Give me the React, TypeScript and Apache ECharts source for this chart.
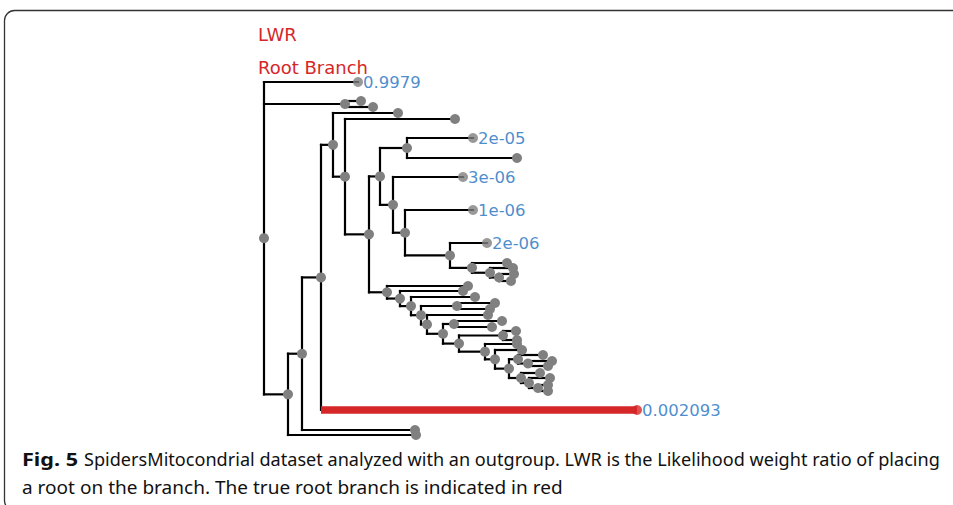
import React, { useEffect, useRef } from 'react';
import * as echarts from 'echarts';

// ---- Tree data (index order: every child comes after its parent) ----
const nodeNames = [
  'root', 'A', 'C', 'c1', 'c2', 'H', 'G', 'hLeaf', 'F', 'gLeaf',
  'D', 'rootBranchLeaf', 'dLeaf', 'E', 'eLeaf', 'I', 'J', 'K', 'L', 'l1',
  'l2', 'M', 'mLeaf', 'N', 'nLeaf', 'O', 'oLeaf', 'P', 'pLeaf', 'Q',
  'qLeaf', 'R', 'r1', 'r2', 'kLeaf', 'S', 'sLeaf', 'T', 'tLeaf', 'U',
  'V', 'v1', 'v2', 'W', 'wLeaf', 'X', 'Y', 'y1', 'y2', 'Z',
  'AA', 'aa1', 'aa2', 'BB', 'bbLeaf', 'CC', 'ccLeaf', 'DD', 'EE', 'eeLeaf',
  'GG', 'gg1', 'gg2', 'FF', 'ffLeaf', 'JJ', 'jjLeaf', 'KK', 'kk1', 'kk2',
];
const nodeParents = [
  -1, 0, 0, 2, 2, 0, 5, 5, 6, 6,
  8, 8, 10, 10, 13, 13, 15, 15, 16, 18,
  18, 16, 21, 21, 23, 23, 25, 25, 27, 27,
  29, 29, 31, 31, 17, 17, 35, 35, 37, 37,
  39, 40, 40, 39, 43, 43, 45, 46, 46, 45,
  49, 50, 50, 49, 53, 53, 55, 55, 57, 58,
  58, 60, 60, 57, 63, 63, 65, 65, 67, 67,
];
// horizontal distance from the root
const nodeDepths = [
  0, 94, 81, 97, 109, 24, 38, 152, 57, 151,
  69, 373, 134, 81, 191, 105, 116, 123, 143, 209,
  253, 129, 199, 141, 209, 186, 223, 208, 243, 226,
  249, 235, 250, 247, 204, 136, 199, 147, 211, 157,
  193, 231, 226, 163, 224, 179, 190, 238, 228, 195,
  239, 252, 253, 221, 253, 231, 258, 245, 254, 279,
  264, 288, 284, 257, 276, 265, 286, 274, 284, 284,
];
// vertical position of the leaves (internal nodes: null, centred on their children)
const leafRows: (number | null)[] = [
  null, 82, null, 101, 107, null, null, 435, null, 430,
  null, 410, 113, null, 119, null, null, null, null, 138,
  158, null, 177, null, 210, null, 243, null, 263, null,
  268, null, 274, 281, 286, null, 291, null, 297, null,
  null, 303, 309, null, 315, null, null, 321, 327, null,
  null, 331, 340, null, 344, null, 350, null, null, 355,
  null, 361, 366, null, 373, null, 378, null, 385, 391,
];
// LWR labels shown on leaves
const labelNodes = [1, 19, 22, 24, 26, 11];
const labelTexts = ['0.9979', '2e-05', '3e-06', '1e-06', '2e-06', '0.002093'];
const rootBranchNode = 11;

const legendLines = ['LWR', 'Root Branch'];
const captionBold = 'Fig. 5';
const captionLine1 =
  'SpidersMitocondrial dataset analyzed with an outgroup. LWR is the Likelihood weight ratio of placing';
const captionLine2 = 'a root on the branch. The true root branch is indicated in red';

const BLUE = '#1b6fbf';
const RED = '#d62728';
const GREY = '#808080';

function measure(text: string, font: string): number {
  const c = document.createElement('canvas');
  const ctx = c.getContext('2d');
  if (!ctx) return 1;
  ctx.font = font;
  return ctx.measureText(text).width;
}

export default function App() {
  const ref = useRef<HTMLDivElement>(null);
  useEffect(() => {
    document.body.style.margin = '0';
    if (!ref.current) return;
    const chart = echarts.init(ref.current, undefined, { renderer: 'svg' });

    const n = nodeNames.length;
    const rows: number[] = new Array(n).fill(0);
    const childMin: number[] = new Array(n).fill(Infinity);
    const childMax: number[] = new Array(n).fill(-Infinity);
    for (let i = n - 1; i >= 0; i--) {
      const lr = leafRows[i];
      rows[i] = lr !== null ? lr : (childMin[i] + childMax[i]) / 2;
      const p = nodeParents[i];
      if (p >= 0) {
        childMin[p] = Math.min(childMin[p], rows[i]);
        childMax[p] = Math.max(childMax[p], rows[i]);
      }
    }
    const blackSegs: number[][] = [];
    const redSegs: number[][] = [];
    for (let i = 0; i < n; i++) {
      const p = nodeParents[i];
      if (p >= 0) {
        const seg = [nodeDepths[p], rows[i], nodeDepths[i], rows[i]];
        if (i === rootBranchNode) redSegs.push(seg);
        else blackSegs.push(seg);
      }
      if (leafRows[i] === null) {
        blackSegs.push([nodeDepths[i], childMin[i], nodeDepths[i], childMax[i]]);
      }
    }
    const dots = nodeNames
      .map((_, i) => i)
      .filter((i) => i !== rootBranchNode && labelNodes.indexOf(i) < 0)
      .map((i) => [nodeDepths[i], rows[i]]);
    const labelled = labelNodes.map((i, k) => ({
      value: [nodeDepths[i], rows[i]],
      name: labelTexts[k],
      itemStyle: { color: i === rootBranchNode ? RED : GREY },
    }));

    const segRender = (color: string, width: number, cap: string) => (params: any, api: any) => {
      const a = api.coord([api.value(0), api.value(1)]);
      const b = api.coord([api.value(2), api.value(3)]);
      return {
        type: 'line',
        shape: { x1: a[0], y1: a[1], x2: b[0], y2: b[1] },
        style: { stroke: color, lineWidth: width, lineCap: cap },
      };
    };

    const capFont = '18px "Noto Sans"';
    const capBoldFont = 'bold 18px "Noto Sans"';
    const sBold = 56 / measure(captionBold, capBoldFont);
    const s1 = 856 / measure(captionLine1, capFont);
    const s2 = 541 / measure(captionLine2, capFont);

    chart.setOption({
      animation: false,
      grid: { left: 264, top: 0, width: 689, height: 505 },
      xAxis: { type: 'value', min: 0, max: 689, show: false },
      yAxis: { type: 'value', min: 0, max: 505, inverse: true, show: false },
      series: [
        {
          type: 'custom',
          renderItem: segRender('#000000', 2.2, 'square'),
          data: blackSegs,
          silent: true,
          z: 2,
        },
        {
          type: 'custom',
          renderItem: segRender(RED, 7.5, 'butt'),
          data: redSegs,
          silent: true,
          z: 3,
        },
        {
          type: 'scatter',
          data: dots,
          symbolSize: 10,
          itemStyle: { color: GREY, opacity: 1 },
          z: 4,
        },
        {
          type: 'scatter',
          data: labelled,
          symbolSize: 10,
          z: 5,
          label: {
            show: true,
            position: 'right',
            distance: 0,
            formatter: '{b}',
            color: BLUE,
            fontSize: 16.5,
            fontFamily: 'DejaVu Sans',
          },
        },
      ],
      graphic: [
        {
          type: 'rect',
          shape: { x: 4.5, y: 10.5, width: 1000, height: 500, r: 10 },
          style: { fill: 'none', stroke: '#333333', lineWidth: 1.3 },
          silent: true,
        },
        ...legendLines.map((t, k) => ({
          type: 'text',
          x: 258,
          y: 34 + k * 33,
          style: {
            text: t,
            fill: RED,
            font: '18px "DejaVu Sans"',
            align: 'left',
            verticalAlign: 'middle',
          },
        })),
        {
          type: 'text',
          x: 22,
          y: 459,
          scaleX: sBold,
          style: { text: captionBold, fill: '#111111', font: capBoldFont, align: 'left', verticalAlign: 'middle' },
        },
        {
          type: 'text',
          x: 84,
          y: 459,
          scaleX: s1,
          style: { text: captionLine1, fill: '#111111', font: capFont, align: 'left', verticalAlign: 'middle' },
        },
        {
          type: 'text',
          x: 22,
          y: 487,
          scaleX: s2,
          style: { text: captionLine2, fill: '#111111', font: capFont, align: 'left', verticalAlign: 'middle' },
        },
      ],
    });
    return () => chart.dispose();
  }, []);
  return <div ref={ref} style={{ width: 953, height: 505 }} />;
}
